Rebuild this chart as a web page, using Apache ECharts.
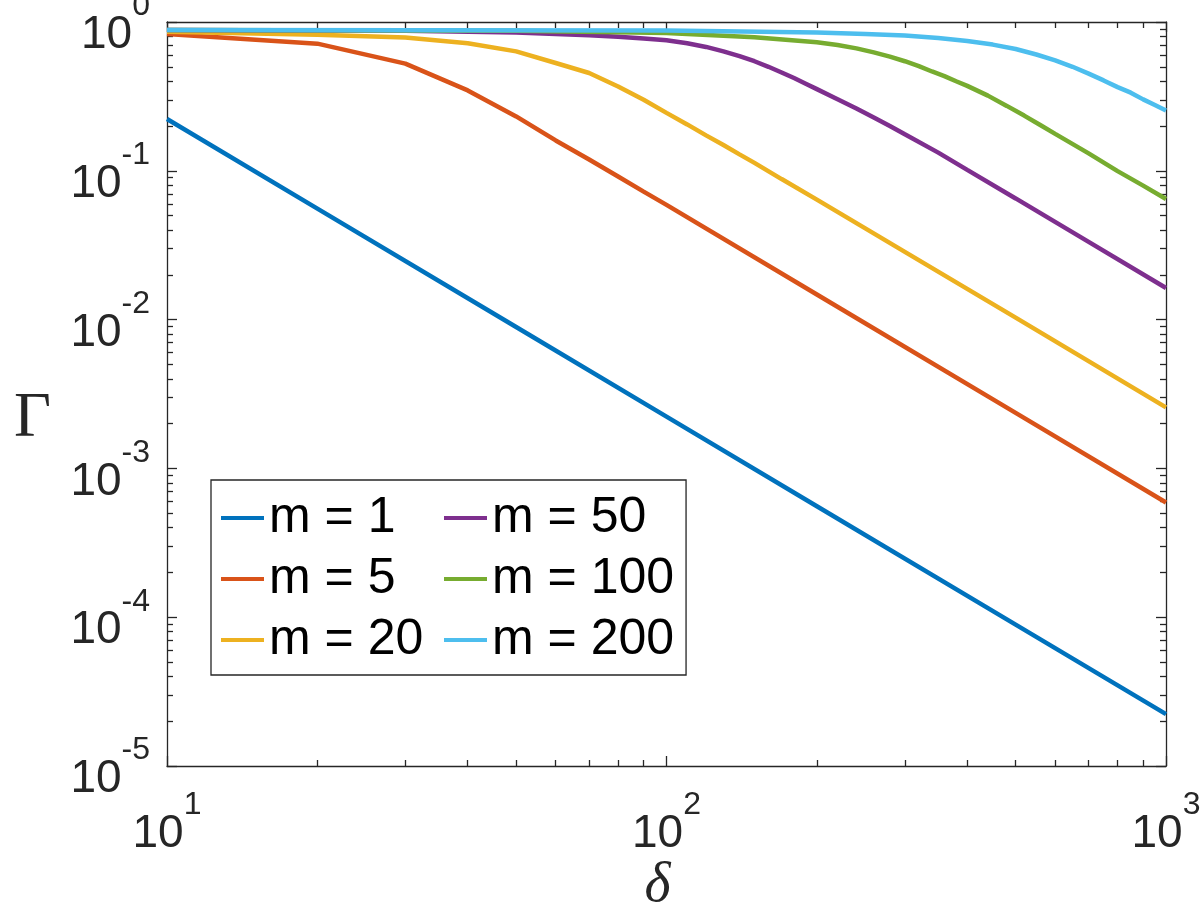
<!DOCTYPE html>
<html><head><meta charset="utf-8">
<script src="https://cdn.jsdelivr.net/npm/echarts@6/dist/echarts.min.js"></script>
<style>html,body{margin:0;padding:0;background:#fff}#chart{width:1200px;height:905px}</style>
</head><body><div id="chart"></div>
<script>
// ---- data ----
const seriesNames = ['m = 1', 'm = 5', 'm = 20', 'm = 50', 'm = 100', 'm = 200'];
const seriesColors = ['#0072BD', '#D95319', '#EDB120', '#7E2F8E', '#77AC30', '#4DBEEE'];

const deltaM1 = [10, 20, 50, 100, 200, 500, 1000];
const gammaM1 = [0.223, 0.0557, 0.00892, 0.00223, 0.000557, 0.0000892, 0.0000223];

const deltaM5 = [10, 20, 30, 40, 50, 60, 70, 80, 90, 100, 200, 500, 1000];
const gammaM5 = [0.83, 0.715, 0.525, 0.347, 0.232, 0.160, 0.119, 0.0915, 0.0725, 0.059, 0.01475, 0.00236, 0.00059];

const deltaM20 = [10, 20, 30, 40, 50, 60, 70, 80, 90, 100, 110, 120, 130, 140, 150, 170, 200, 250, 300, 500, 1000];
const gammaM20 = [0.86, 0.82, 0.788, 0.72, 0.635, 0.53, 0.454, 0.369, 0.30, 0.245, 0.205, 0.173, 0.149, 0.129, 0.113, 0.088, 0.064, 0.041, 0.0285, 0.0103, 0.00257];

const deltaM50 = [10, 30, 50, 60, 70, 80, 90, 100, 110, 120, 130, 140, 150, 160, 170, 180, 190, 200, 220, 240, 260, 280, 300, 350, 400, 500, 700, 1000];
const gammaM50 = [0.885, 0.875, 0.85, 0.83, 0.815, 0.795, 0.775, 0.755, 0.72, 0.68, 0.635, 0.59, 0.545, 0.50, 0.458, 0.42, 0.385, 0.354, 0.303, 0.262, 0.228, 0.20, 0.176, 0.1325, 0.1015, 0.0652, 0.0333, 0.0163];

const deltaM100 = [10, 50, 100, 150, 200, 220, 240, 260, 280, 300, 320, 340, 360, 380, 400, 440, 480, 520, 560, 600, 700, 800, 900, 1000];
const gammaM100 = [0.885, 0.875, 0.845, 0.79, 0.73, 0.70, 0.665, 0.625, 0.585, 0.545, 0.505, 0.465, 0.433, 0.40, 0.372, 0.32, 0.273, 0.235, 0.203, 0.177, 0.131, 0.0995, 0.0795, 0.0646];

const deltaM200 = [10, 100, 200, 250, 300, 350, 400, 450, 500, 550, 600, 650, 700, 750, 800, 850, 900, 950, 1000];
const gammaM200 = [0.885, 0.878, 0.85, 0.832, 0.81, 0.782, 0.745, 0.705, 0.658, 0.605, 0.553, 0.50, 0.45, 0.405, 0.365, 0.335, 0.302, 0.277, 0.2546];

const xMajorTicks = [10, 100, 1000];
const xMinorTicks = [20, 30, 40, 50, 60, 70, 80, 90, 200, 300, 400, 500, 600, 700, 800, 900];
const yMajorTicks = [1e-5, 1e-4, 1e-3, 1e-2, 1e-1, 1];
const yMinorTicks = [2e-5,3e-5,4e-5,5e-5,6e-5,7e-5,8e-5,9e-5,
  2e-4,3e-4,4e-4,5e-4,6e-4,7e-4,8e-4,9e-4,
  2e-3,3e-3,4e-3,5e-3,6e-3,7e-3,8e-3,9e-3,
  2e-2,3e-2,4e-2,5e-2,6e-2,7e-2,8e-2,9e-2,
  0.2,0.3,0.4,0.5,0.6,0.7,0.8,0.9];

const deltas = [deltaM1, deltaM5, deltaM20, deltaM50, deltaM100, deltaM200];
const gammas = [gammaM1, gammaM5, gammaM20, gammaM50, gammaM100, gammaM200];

// ---- chart ----
const axisColor = '#262626';
const sans = '"Liberation Sans", Arial, Helvetica, sans-serif';
const serif = '"Liberation Serif", "Times New Roman", serif';

function expLabel(v) {
  const e = Math.round(Math.log10(v));
  return '{b|10}{e|' + e + '}';
}
const richLbl = {
  b: { fontFamily: sans, fontSize: 46, lineHeight: 68, color: axisColor, verticalAlign: 'bottom' },
  e: { fontFamily: sans, fontSize: 32, lineHeight: 32, color: axisColor, verticalAlign: 'top' }
};
const lineSt = { color: axisColor, width: 1.3 };

function xAx(pos, major, showLine) {
  return {
    type: 'log', logBase: 10, min: 10, max: 1000, position: pos,
    axisLine: { show: showLine, lineStyle: lineSt },
    axisTick: { show: true, inside: true, length: major ? 10 : 6, customValues: major ? xMajorTicks : xMinorTicks, lineStyle: lineSt },
    axisLabel: (major && pos === 'bottom') ? { show: true, customValues: xMajorTicks, formatter: expLabel, rich: richLbl, margin: 23 } : { show: false },
    splitLine: { show: false }, minorTick: { show: false }
  };
}
function yAx(pos, major, showLine) {
  return {
    type: 'log', logBase: 10, min: 1e-5, max: 1, position: pos,
    axisLine: { show: showLine, lineStyle: lineSt },
    axisTick: { show: true, inside: true, length: major ? 10 : 6, customValues: major ? yMajorTicks : yMinorTicks, lineStyle: lineSt },
    axisLabel: (major && pos === 'left') ? { show: true, customValues: yMajorTicks, formatter: expLabel, rich: richLbl, margin: 17, align: 'right', padding: [5, 0, 0, 0] } : { show: false },
    splitLine: { show: false }, minorTick: { show: false }
  };
}

const xAxes = [xAx('bottom', true, true), xAx('bottom', false, false), xAx('top', true, true), xAx('top', false, false)];
xAxes[0].name = 'δ';
xAxes[0].nameLocation = 'middle';
xAxes[0].nameGap = 92;
xAxes[0].nameMoveOverlap = false;
xAxes[0].nameTextStyle = { fontFamily: serif, fontStyle: 'italic', fontSize: 56, color: axisColor, padding: [0, 18, 0, 0] };
const yAxes = [yAx('left', true, true), yAx('left', false, false), yAx('right', true, true), yAx('right', false, false)];
yAxes[0].name = 'Γ';
yAxes[0].nameLocation = 'middle';
yAxes[0].nameRotate = 0;
yAxes[0].nameGap = 116;
yAxes[0].nameMoveOverlap = false;
yAxes[0].nameTextStyle = { fontFamily: serif, fontSize: 64, lineHeight: 50, color: axisColor, verticalAlign: 'top', align: 'right' };

const series = seriesNames.map((name, i) => ({
  name: name,
  type: 'line',
  xAxisIndex: 0, yAxisIndex: 0,
  data: deltas[i].map((d, j) => [d, gammas[i][j]]),
  showSymbol: false, symbol: 'none',
  color: seriesColors[i],
  lineStyle: { color: seriesColors[i], width: 4.5 },
  emphasis: { disabled: true },
  animation: false
}));

const chart = echarts.init(document.getElementById('chart'), null, { renderer: 'canvas' });
chart.setOption({
  animation: false,
  backgroundColor: '#fff',
  grid: { left: 167, right: 34, top: 22, bottom: 139, outerBoundsMode: 'none' },
  xAxis: xAxes,
  yAxis: yAxes,
  legend: {
    orient: 'vertical', left: 211, top: 480, height: 190,
    itemGap: 5, itemWidth: 43, itemHeight: 4, icon: 'rect',
    padding: [10, 12, 7, 10],
    backgroundColor: '#fff', borderColor: axisColor, borderWidth: 1.3,
    selectedMode: false,
    textStyle: { fontFamily: sans, fontSize: 50, color: '#000', width: 170, lineHeight: 56 },
    data: seriesNames
  },
  series: series
});
</script>
</body></html>
